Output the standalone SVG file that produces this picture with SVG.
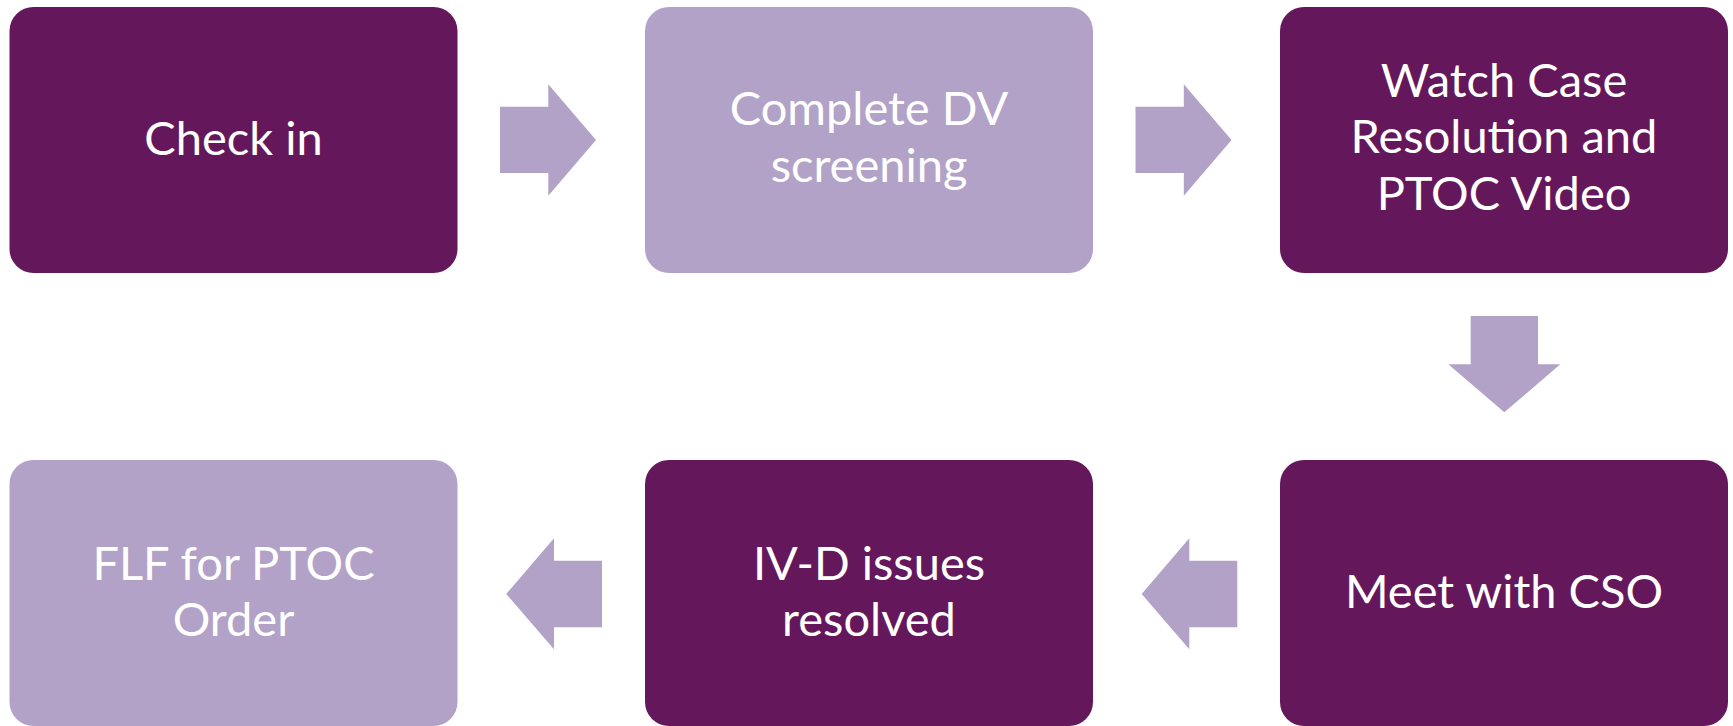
<svg xmlns="http://www.w3.org/2000/svg" width="1733" height="726" viewBox="0 0 1733 726">
<style>
.dark{fill:#64185B}
.light{fill:#B3A2C7}
.arr{fill:#B3A2C7}
text{font-family:Lato,"Open Sans","Liberation Sans",sans-serif;font-size:47px;fill:#FFFFFF;text-anchor:middle}
</style>
<rect width="1733" height="726" fill="#FFFFFF"/>
<g id="connectors">
<polygon class="arr" points="500,106.7 548.3,106.7 548.3,84.3 596,140 548.3,195.7 548.3,173 500,173"/>
<polygon class="arr" points="1135.5,106.7 1183.8,106.7 1183.8,84.3 1231.5,140 1183.8,195.7 1183.8,173 1135.5,173"/>
<polygon class="arr" points="1470.7,316 1538,316 1538,364.3 1560.3,364.3 1504.3,412.3 1448.3,364.3 1470.7,364.3"/>
<polygon class="arr" points="1237.3,560.7 1189.3,560.7 1189.3,538.3 1141.7,594 1189.3,649.3 1189.3,627.3 1237.3,627.3"/>
<polygon class="arr" points="602,560.7 554,560.7 554,538.3 506.2,594 554,649.3 554,627.3 602,627.3"/>
</g>
<g id="node1">
<rect class="dark" x="9.5" y="7" width="448" height="266" rx="24"/>
<text x="233.5" y="155">Check in</text>
</g>
<g id="node2">
<rect class="light" x="645" y="7" width="448" height="266" rx="24"/>
<text x="869" y="125">Complete DV</text>
<text x="869" y="181.7">screening</text>
</g>
<g id="node3">
<rect class="dark" x="1280" y="7" width="448" height="266" rx="24"/>
<text x="1504" y="96.7">Watch Case</text>
<text x="1504" y="153.3">Resolution and</text>
<text x="1504" y="210">PTOC Video</text>
</g>
<g id="node4">
<rect class="dark" x="1280" y="460" width="448" height="266" rx="24"/>
<text x="1504" y="608">Meet with CSO</text>
</g>
<g id="node5">
<rect class="dark" x="645" y="460" width="448" height="266" rx="24"/>
<text x="869" y="579.7">IV-D issues</text>
<text x="869" y="636.3">resolved</text>
</g>
<g id="node6">
<rect class="light" x="9.5" y="460" width="448" height="266" rx="24"/>
<text x="233.5" y="579.7">FLF for PTOC</text>
<text x="233.5" y="636.3">Order</text>
</g>
</svg>
